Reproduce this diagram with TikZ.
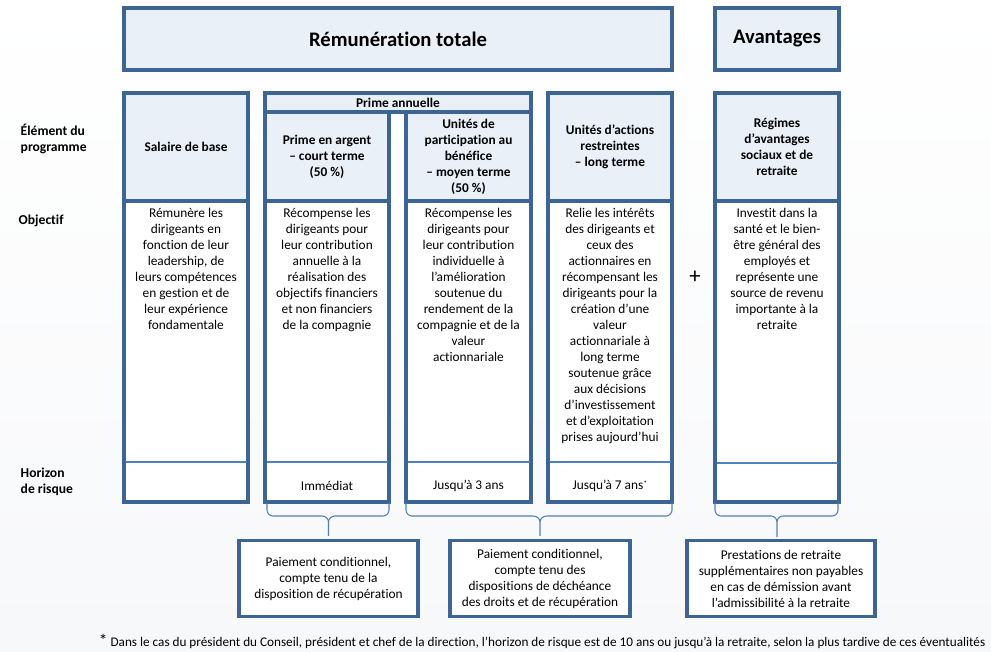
\documentclass[tikz,border=0pt]{standalone}
\usepackage{fontspec}
\setmainfont{Carlito}[Ligatures=NoCommon]
\definecolor{bordblue}{RGB}{60,101,149}
\definecolor{headblue}{RGB}{233,240,248}
\definecolor{lineblue}{RGB}{79,129,189}
\definecolor{bggrey}{RGB}{247,248,250}

\begin{document}
\begin{tikzpicture}[x=0.75pt, y=-0.75pt,
    frame/.style={draw=bordblue, line width=2.4pt},
    headtxt/.style={font=\fontsize{10}{12}\selectfont\bfseries, align=center},
    bodytxt/.style={font=\fontsize{10}{12}\selectfont, align=center, anchor=north},
    rowlabel/.style={font=\fontsize{10.2}{12}\selectfont\bfseries, align=left, anchor=west},
    thinline/.style={draw=lineblue, line width=0.8pt},
    accolade/.style={draw=lineblue, line width=0.8pt},
    notebox/.style={frame, fill=white, align=center, font=\fontsize{10}{12}\selectfont,
        minimum height=57.5pt, inner sep=0pt}]
        \useasboundingbox (0,0) rectangle (991,651);
        \fill [top color=white, bottom color=bggrey] (0,0) rectangle (991,651);

        % en-tetes
        \draw [frame, fill=headblue] (124,8) rectangle (672,70);
        \node [font=\fontsize{15.5}{18}\selectfont\bfseries] (remtot) at (398,39) {Rémunération totale};
        \draw [frame, fill=headblue] (715,8) rectangle (839,70);
        \node [font=\fontsize{15.5}{18}\selectfont\bfseries] (avant) at (777,39) {Avantages};

        % libelles des rangees
        \node [rowlabel] (element) at (16,138.5) {Élément du\\programme};
        \node [rowlabel] (objectif) at (14,220.5) {Objectif};
        \node [rowlabel] (horizon) at (16,482) {Horizon\\de risque};

        % colonnes
        \draw [frame, fill=white] (124,201) rectangle (248,502);
        \draw [frame, fill=headblue] (124,93) rectangle (248,201);
        \draw [thinline] (125.5,462) -- (246.5,462);

        \draw [frame, fill=headblue] (265,93) rectangle (531,112);
        \node [font=\fontsize{10}{12}\selectfont\bfseries] (primeann) at (398,102.5) {Prime annuelle};

        \draw [frame, fill=white] (265,201) rectangle (389,502);
        \draw [frame, fill=headblue] (265,112) rectangle (389,201);
        \draw [thinline] (266.5,462) -- (387.5,462);

        \draw [frame, fill=white] (406,201) rectangle (531,502);
        \draw [frame, fill=headblue] (406,112) rectangle (531,201);
        \draw [thinline] (407.5,462) -- (529.5,462);

        \draw [frame, fill=white] (548,201) rectangle (672,502);
        \draw [frame, fill=headblue] (548,93) rectangle (672,201);
        \draw [thinline] (549.5,462) -- (670.5,462);

        \draw [frame, fill=white] (715,201) rectangle (839,502);
        \draw [frame, fill=headblue] (715,93) rectangle (839,201);
        \draw [thinline] (716.5,463) -- (837.5,463);

        \node [headtxt] (salaire) at (186,147) {Salaire de base};
        \node [headtxt] (argent) at (327,157) {Prime en argent\\– court terme\\(50 \%)};
        \node [headtxt] (unites) at (468.5,157) {Unités de\\participation au\\bénéfice\\– moyen terme\\(50 \%)};
        \node [headtxt] (actions) at (610,147) {Unités d’actions\\restreintes\\– long terme};
        \node [headtxt] (regimes) at (777,147) {Régimes\\d’avantages\\sociaux et de\\retraite};

        \node [bodytxt] (objsal) at (186,204) {Rémunère les\\dirigeants en\\fonction de leur\\leadership, de\\leurs compétences\\en gestion et de\\leur expérience\\fondamentale};
        \node [bodytxt] (objarg) at (327,204) {Récompense les\\dirigeants pour\\leur contribution\\annuelle à la\\réalisation des\\objectifs financiers\\et non financiers\\de la compagnie};
        \node [bodytxt] (objuni) at (468.5,204) {Récompense les\\dirigeants pour\\leur contribution\\individuelle à\\l’amélioration\\soutenue du\\rendement de la\\compagnie et de la\\valeur\\actionnariale};
        \node [bodytxt] (objact) at (610,204) {Relie les intérêts\\des dirigeants et\\ceux des\\actionnaires en\\récompensant les\\dirigeants pour la\\création d’une\\valeur\\actionnariale à\\long terme\\soutenue grâce\\aux décisions\\d’investissement\\et d’exploitation\\prises aujourd’hui};
        \node [bodytxt] (objreg) at (777,204) {Investit dans la\\santé et le bien-\\être général des\\employés et\\représente une\\source de revenu\\importante à la\\retraite};

        \node [font=\fontsize{17}{18}\selectfont] (plus) at (695,277) {+};

        % horizon de risque
        \node [font=\fontsize{10}{12}\selectfont] (horarg) at (327,486) {Immédiat};
        \node [font=\fontsize{10}{12}\selectfont] (horuni) at (468.5,486) {Jusqu’à 3 ans};
        \node [font=\fontsize{10}{12}\selectfont] (horact) at (610,486) {Jusqu’à 7 ans{\fontsize{6}{6}\selectfont\raisebox{0.8ex}{*}}};

        % encadres du bas
        \node [notebox, minimum width=134.25pt] (paiea) at (328.5,578.5) {Paiement conditionnel,\\compte tenu de la\\disposition de récupération};
        \node [notebox, minimum width=135pt] (paieb) at (540,578.5) {Paiement conditionnel,\\compte tenu des\\dispositions de déchéance\\des droits et de récupération};
        \node [notebox, minimum width=141pt] (prestc) at (781,578.5) {Prestations de retraite\\supplémentaires non payables\\en cas de démission avant\\l’admissibilité à la retraite};

        \draw [accolade] (267,503) -- (267,510) to[out=-90, in=180] (273,516) -- (322,516) to[out=0, in=90] (328.5,522) -- ([yshift=2pt]paiea.north);
        \draw [accolade] (389,503) -- (389,510) to[out=-90, in=0] (383,516) -- (335,516) to[out=180, in=90] (328.5,522);
        \draw [accolade] (406,503) -- (406,510) to[out=-90, in=180] (412,516) -- (533,516) to[out=0, in=90] (540,522) -- ([yshift=2pt]paieb.north);
        \draw [accolade] (672,503) -- (672,510) to[out=-90, in=0] (666,516) -- (547,516) to[out=180, in=90] (540,522);
        \draw [accolade] (715,503) -- (715,510) to[out=-90, in=180] (721,516) -- (771,516) to[out=0, in=90] (777,522) -- (777,537);
        \draw [accolade] (838,503) -- (838,510) to[out=-90, in=0] (832,516) -- (783,516) to[out=180, in=90] (777,522);

        \node [anchor=east, font=\fontsize{9.9}{11}\selectfont] (renvoi) at (990,641) {{\fontsize{13}{13}\selectfont *} Dans le cas du président du Conseil, président et chef de la direction, l’horizon de risque est de 10 ans ou jusqu’à la retraite, selon la plus tardive de ces éventualités};
\end{tikzpicture}
\end{document}
